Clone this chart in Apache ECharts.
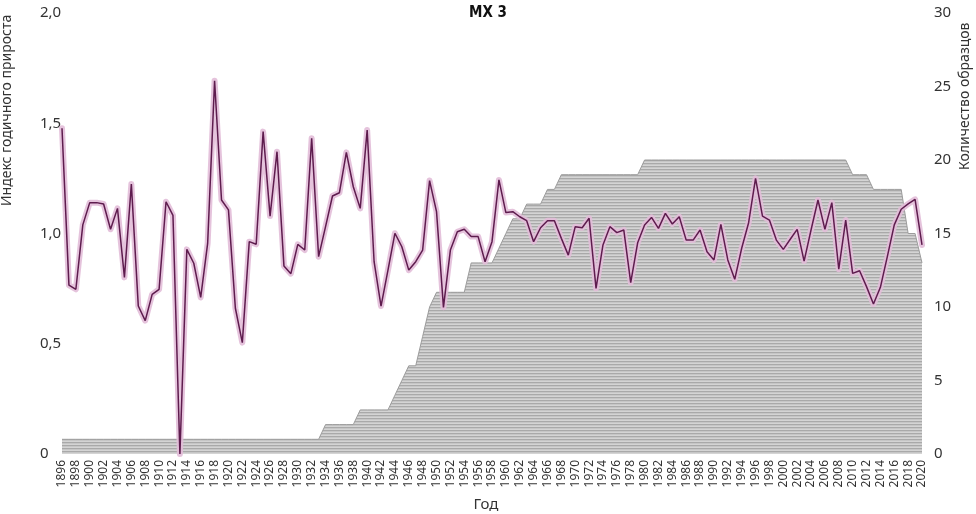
<!DOCTYPE html>
<html>
<head>
<meta charset="utf-8">
<script src="https://cdn.jsdelivr.net/npm/echarts@6/dist/echarts.min.js"></script>
<style>
html,body{margin:0;padding:0;background:#fff;}
#c{width:976px;height:514px;}
</style>
</head>
<body>
<div id="c"></div>
<script>
// ---- DATA ----
const years = [];
for (let y = 1896; y <= 2020; y++) years.push(String(y));

const growthIndex = [
  1.477, 0.766, 0.747, 1.039, 1.140, 1.140, 1.134, 1.019, 1.114, 0.801, // 1896-1905
  1.224, 0.671, 0.605, 0.724, 0.747, 1.144, 1.082, 0.000, 0.928, 0.865, // 1906-1915
  0.710, 0.955, 1.693, 1.152, 1.107, 0.661, 0.505, 0.963, 0.951, 1.462, // 1916-1925
  1.079, 1.371, 0.853, 0.818, 0.951, 0.925, 1.432, 0.895, 1.031, 1.170, // 1926-1935
  1.185, 1.368, 1.212, 1.114, 1.469, 0.872, 0.671, 0.834, 1.001, 0.940, // 1936-1945
  0.834, 0.872, 0.925, 1.240, 1.099, 0.665, 0.925, 1.008, 1.019, 0.986, // 1946-1955
  0.986, 0.872, 0.963, 1.243, 1.095, 1.099, 1.076, 1.058, 0.963, 1.026, // 1956-1965
  1.058, 1.058, 0.978, 0.902, 1.031, 1.026, 1.069, 0.751, 0.948, 1.031, // 1966-1975
  1.004, 1.016, 0.777, 0.958, 1.039, 1.073, 1.023, 1.091, 1.043, 1.076, // 1976-1985
  0.970, 0.970, 1.016, 0.917, 0.880, 1.041, 0.880, 0.792, 0.933, 1.049, // 1986-1995
  1.250, 1.079, 1.061, 0.970, 0.928, 0.974, 1.019, 0.875, 1.016, 1.152, // 1996-2005
  1.019, 1.140, 0.838, 1.061, 0.819, 0.831, 0.759, 0.680, 0.756, 0.895, // 2006-2015
  1.039, 1.110, 1.134, 1.155, 0.948                                     // 2016-2020
];

const sampleCount = [
  1, 1, 1, 1, 1, 1, 1, 1, 1, 1,        // 1896-1905
  1, 1, 1, 1, 1, 1, 1, 1, 1, 1,        // 1906-1915
  1, 1, 1, 1, 1, 1, 1, 1, 1, 1,        // 1916-1925
  1, 1, 1, 1, 1, 1, 1, 1, 2, 2,        // 1926-1935
  2, 2, 2, 3, 3, 3, 3, 3, 4, 5,        // 1936-1945
  6, 6, 8, 10, 11, 11, 11, 11, 11, 13, // 1946-1955
  13, 13, 13, 14, 15, 16, 16, 17, 17, 17, // 1956-1965
  18, 18, 19, 19, 19, 19, 19, 19, 19, 19, // 1966-1975
  19, 19, 19, 19, 20, 20, 20, 20, 20, 20, // 1976-1985
  20, 20, 20, 20, 20, 20, 20, 20, 20, 20, // 1986-1995
  20, 20, 20, 20, 20, 20, 20, 20, 20, 20, // 1996-2005
  20, 20, 20, 20, 19, 19, 19, 18, 18, 18, // 2006-2015
  18, 18, 15, 15, 13                      // 2016-2020
];

const leftTicks = ['0', '0,5', '1,0', '1,5', '2,0'];
const rightTicks = ['0', '5', '10', '15', '20', '25', '30'];

const titleText = 'МХ 3';
const leftName = 'Индекс годичного прироста';
const rightName = 'Количество образцов';
const xName = 'Год';

// ---- pattern for the sample-count area ----
const pat = document.createElement('canvas');
pat.width = 4; pat.height = 3;
const pc = pat.getContext('2d');
pc.fillStyle = '#d4d4d4'; pc.fillRect(0, 0, 4, 1);
pc.fillStyle = '#a9a9a9'; pc.fillRect(0, 1, 4, 1);
pc.fillStyle = '#c6c6c6'; pc.fillRect(0, 2, 4, 1);

const FONT = 'Noto Sans';
const chart = echarts.init(document.getElementById('c'), null, {renderer: 'canvas'});
chart.setOption({
  animation: false,
  backgroundColor: '#fff',
  title: {
    text: titleText, left: 'center', top: 1,
    textStyle: {fontFamily: '"DejaVu Sans Condensed", "Roboto Condensed", Roboto, sans-serif', fontWeight: 'bold', fontSize: 15, color: '#111'}
  },
  grid: {left: 62, right: 54, top: 13, bottom: 60},
  xAxis: {
    type: 'category', data: years, boundaryGap: false,
    axisLine: {show: false}, axisTick: {show: false},
    axisLabel: {interval: 1, rotate: 90, margin: 6, fontFamily: FONT, fontSize: 12, color: '#333'},
    splitLine: {show: false}
  },
  yAxis: [
    {
      type: 'value', min: 0, max: 2, interval: 0.5,
      axisLine: {show: false}, axisTick: {show: false}, splitLine: {show: false},
      axisLabel: {align: 'left', margin: 22, fontFamily: FONT, fontSize: 15, color: '#333',
        formatter: v => leftTicks[Math.round(v / 0.5)]}
    },
    {
      type: 'value', min: 0, max: 30, interval: 5, position: 'right',
      axisLine: {show: false}, axisTick: {show: false}, splitLine: {show: false},
      axisLabel: {align: 'left', margin: 12, fontFamily: FONT, fontSize: 15, color: '#333',
        formatter: v => rightTicks[Math.round(v / 5)]}
    }
  ],
  graphic: [
    {type: 'text', x: 0, y: 206, rotation: Math.PI / 2,
      style: {text: leftName, fontFamily: FONT, fontSize: 14, fill: '#333', textAlign: 'left', textVerticalAlign: 'top'}},
    {type: 'text', x: 958, y: 170, rotation: Math.PI / 2,
      style: {text: rightName, fontFamily: FONT, fontSize: 14, fill: '#333', textAlign: 'left', textVerticalAlign: 'top'}},
    {type: 'text', x: 486, y: 497,
      style: {text: xName, fontFamily: FONT, fontSize: 15, fill: '#333', textAlign: 'center', textVerticalAlign: 'top'}}
  ],
  series: [
    {
      type: 'line', yAxisIndex: 1, data: sampleCount, symbol: 'none',
      lineStyle: {color: '#9c9c9c', width: 1},
      areaStyle: {color: {image: pat, repeat: 'repeat'}, opacity: 1},
      z: 1
    },
    {
      type: 'line', yAxisIndex: 0, data: growthIndex, symbol: 'none',
      lineStyle: {color: '#e2bcd8', width: 6, opacity: 0.9, join: 'round', cap: 'round'},
      z: 2
    },
    {
      type: 'line', yAxisIndex: 0, data: growthIndex, symbol: 'none',
      lineStyle: {color: '#5e1c4e', width: 1.5},
      z: 3
    }
  ]
});
</script>
</body>
</html>
